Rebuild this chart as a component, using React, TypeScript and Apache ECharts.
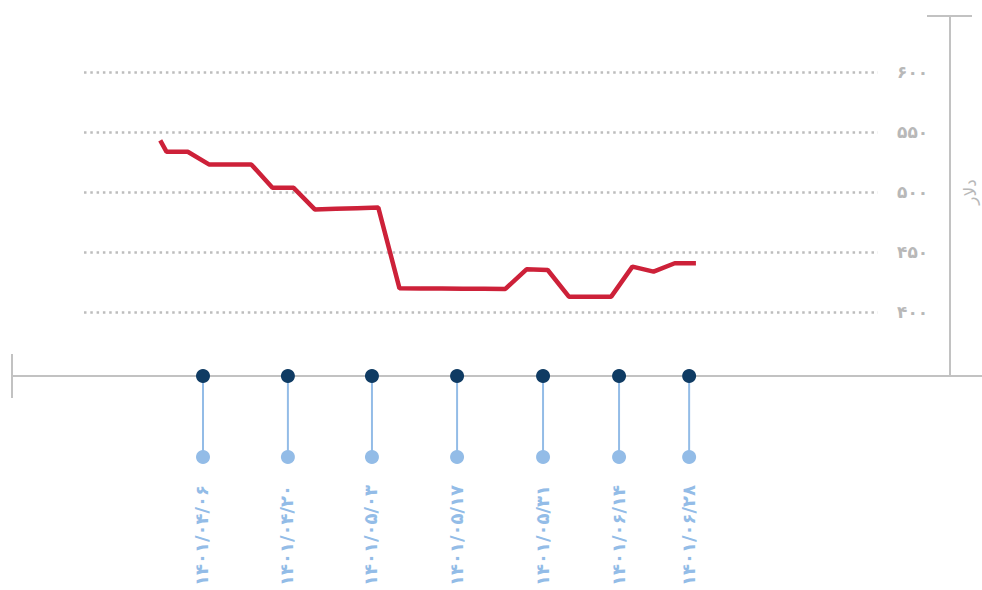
import React, { useEffect, useRef } from "react";
import * as echarts from "echarts";

// line data: x in trading-step units, y in dollars
const steps = [-0.3, 0, 1, 2, 3, 4, 5, 6, 7, 8, 9, 10, 11, 12, 13, 14, 15, 16, 17, 18, 19, 20, 21, 22, 23, 24, 25];
const prices = [543, 533.5, 533.5, 523, 523, 523, 503.5, 503.5, 485.5, 486, 486.5, 487, 419.7, 419.6, 419.5, 419.4, 419.3, 419.2, 435.6, 435, 412.8, 412.8, 412.8, 437.8, 433.6, 440.6, 440.6];

// date markers on the timeline
const markerPositions = [1.72, 5.73, 9.7, 13.72, 17.78, 21.37, 24.68];
const markerDates = ["۱۴۰۱/۰۴/۰۶", "۱۴۰۱/۰۴/۲۰", "۱۴۰۱/۰۵/۰۳", "۱۴۰۱/۰۵/۱۷", "۱۴۰۱/۰۵/۳۱", "۱۴۰۱/۰۶/۱۴", "۱۴۰۱/۰۶/۲۸"];

// y tick labels
const yTicks = [400, 450, 500, 550, 600];
const yTickLabels = ["۴۰۰", "۴۵۰", "۵۰۰", "۵۵۰", "۶۰۰"];
const yAxisName = "دلار";

const X_MIN = -3.9;
const X_MAX = 33.6;

const GRAY = "#c2c2c2";
const RED = "#cd2139";
const NAVY = "#0f3b63";
const LIGHT = "#93bce7";

export default function App() {
  const ref = useRef<HTMLDivElement>(null);
  useEffect(() => {
    document.body.style.margin = "0";
    if (!ref.current) return;
    const chart = echarts.init(ref.current, null, { renderer: "svg" });
    const option: any = {
      animation: false,
      grid: [
        { left: 84, right: 104, top: 72, height: 240, outerBoundsMode: "none", containLabel: false },
        { left: 84, right: 104, top: 376, height: 81, outerBoundsMode: "none", containLabel: false },
      ],
      xAxis: [
        { type: "value", gridIndex: 0, min: X_MIN, max: X_MAX, show: false },
        { type: "value", gridIndex: 1, min: X_MIN, max: X_MAX, show: false },
      ],
      yAxis: [
        {
          type: "value",
          gridIndex: 0,
          position: "right",
          min: yTicks[0],
          max: yTicks[yTicks.length - 1],
          interval: 50,
          axisLine: { show: false },
          axisTick: { show: false },
          axisLabel: {
            margin: 19,
            align: "left",
            color: "#b8b8b8",
            fontSize: 17,
            fontWeight: "bold",
            fontFamily: "DejaVu Sans",
            formatter: (v: number) => yTickLabels[yTicks.indexOf(v)] ?? "",
          },
          splitLine: {
            show: true,
            lineStyle: { color: "#bdbdbd", width: 2.5, type: [2.5, 3.8] },
          },
          name: yAxisName,
          nameLocation: "middle",
          nameGap: 83,
          nameRotate: 90,
          nameTextStyle: { color: "#b8b8b8", fontSize: 17, fontFamily: "DejaVu Sans" },
        },
        { type: "value", gridIndex: 1, min: 0, max: 1, show: false },
      ],
      graphic: [
        { type: "line", z: 0, shape: { x1: 12, y1: 376, x2: 982, y2: 376 }, style: { stroke: GRAY, lineWidth: 2 } },
        { type: "line", z: 0, shape: { x1: 12, y1: 354, x2: 12, y2: 398 }, style: { stroke: GRAY, lineWidth: 2 } },
        { type: "line", z: 0, shape: { x1: 950, y1: 16, x2: 950, y2: 376 }, style: { stroke: GRAY, lineWidth: 2 } },
        { type: "line", z: 0, shape: { x1: 927, y1: 16, x2: 972, y2: 16 }, style: { stroke: GRAY, lineWidth: 2 } },
      ],
      series: [
        {
          type: "line",
          xAxisIndex: 0,
          yAxisIndex: 0,
          data: steps.map((s, i) => [s, prices[i]]),
          symbol: "none",
          lineStyle: { color: RED, width: 4.5 },
          z: 3,
        },
        {
          type: "custom",
          xAxisIndex: 1,
          yAxisIndex: 1,
          z: 4,
          data: markerPositions.map((p, i) => [p, i]),
          renderItem: (params: any, api: any) => {
            const xv = api.value(0);
            const idx = api.value(1);
            const top = api.coord([xv, 1]);
            const bot = api.coord([xv, 0]);
            return {
              type: "group",
              children: [
                { type: "line", shape: { x1: top[0], y1: top[1], x2: bot[0], y2: bot[1] }, style: { stroke: LIGHT, lineWidth: 2 } },
                { type: "circle", shape: { cx: bot[0], cy: bot[1], r: 7 }, style: { fill: LIGHT } },
                { type: "circle", shape: { cx: top[0], cy: top[1], r: 7 }, style: { fill: NAVY } },
                {
                  type: "text",
                  x: bot[0] - 1,
                  y: bot[1] + 28,
                  rotation: Math.PI / 2,
                  style: {
                    text: markerDates[idx],
                    fill: LIGHT,
                    font: "bold 18px 'DejaVu Sans'",
                    align: "right",
                    verticalAlign: "middle",
                  },
                },
              ],
            };
          },
        },
      ],
    };
    chart.setOption(option);
    return () => chart.dispose();
  }, []);
  return <div ref={ref} style={{ width: 982, height: 590 }} />;
}
